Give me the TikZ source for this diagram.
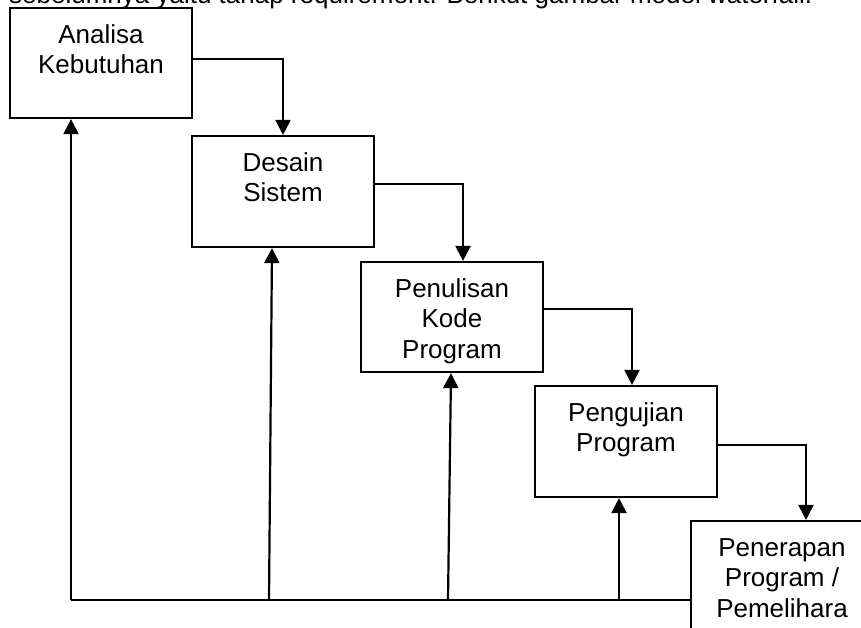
\documentclass[tikz,border=0pt]{standalone}
\usepackage{fontspec}
\setmainfont{Liberation Sans}
\usetikzlibrary{arrows.meta}
\newcommand{\boxtext}[2]{\parbox[c][#1][t]{182pt}{\centering\rule{0pt}{35pt}#2}}
\tikzset{
  stage/.style={draw=black, line width=2.2pt, inner sep=0pt, fill=white,
    font=\fontsize{26}{30.5}\selectfont},
  flow/.style={line width=2.2pt, -{Triangle[width=15pt,length=15pt]}},
  plain/.style={line width=2.2pt}
}
\begin{document}
\begin{tikzpicture}[x=1pt,y=-1pt]
\useasboundingbox (0,0) rectangle (861,627);
\clip (0,0) rectangle (861,627);
\fill[white] (0,0) rectangle (861,627);
\node[anchor=base west, inner sep=0pt, font=\fontsize{26}{30.5}\selectfont] (intro) at (9,3)
  {sebelumnya yaitu tahap requirement. Berikut gambar model waterfall.};
\node[stage] (b1) at (101,63) {\boxtext{110pt}{Analisa\\Kebutuhan}};
\node[stage] (b2) at (283,191.5) {\boxtext{111pt}{Desain\\Sistem}};
\node[stage] (b3) at (452,317) {\boxtext{110pt}{Penulisan\\Kode\\Program}};
\node[stage] (b4) at (626,441.5) {\boxtext{111pt}{Pengujian\\Program}};
\node[stage] (b5) at (782,576.5) {\boxtext{111pt}{Penerapan\\Program /\\Pemelihara}};
% forward flow
\draw[flow] ([yshift=4pt]b1.east) -| (b2.north);
\draw[flow] ([yshift=7.5pt]b2.east) -| ([xshift=11pt]b3.north);
\draw[flow] ([yshift=8pt]b3.east) -| ([xshift=6pt]b4.north);
\draw[flow] ([yshift=-3.5pt]b4.east) -| ([xshift=24pt]b5.north);
% feedback
\coordinate (fb) at (71,600);
\coordinate (j2) at (269,600);
\coordinate (j3) at (448,600);
\coordinate (j4) at (619,600);
\draw[plain] (b5.west |- fb) -- (fb);
\draw[flow] (fb) -- ([xshift=-30pt]b1.south);
\draw[flow] (j2) -- ([xshift=-11pt]b2.south);
\draw[flow] (j3) -- ([xshift=-1pt]b3.south);
\draw[flow] (j4) -- ([xshift=-7pt]b4.south);
\end{tikzpicture}
\end{document}
